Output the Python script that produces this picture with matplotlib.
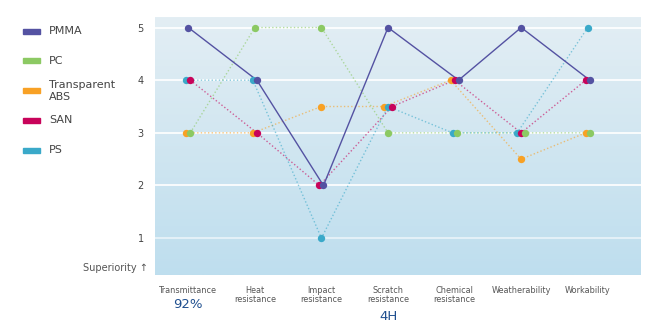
import numpy as np
import matplotlib
matplotlib.use("Agg")
import matplotlib.pyplot as plt
from matplotlib.patches import Rectangle
from matplotlib.colors import LinearSegmentedColormap

# Data
categories = ["Transmittance", "Heat\nresistance", "Impact\nresistance", "Scratch\nresistance",
              "Chemical\nresistance", "Weatherability", "Workability"]
extra_labels = {0: "92%", 3: "4H"}

series_names = ["PMMA", "PC", "Transparent\nABS", "SAN", "PS"]
pmma = [5, 4, 2, 5, 4, 5, 4]
pc = [3, 5, 5, 3, 3, 3, 3]
abs_ = [3, 3, 3.5, 3.5, 4, 2.5, 3]
san = [4, 3, 2, 3.5, 4, 3, 4]
ps = [4, 4, 1, 3.5, 3, 3, 5]
values = [pmma, pc, abs_, san, ps]
colors = ["#5452a2", "#8cc963", "#f8a125", "#c8035a", "#3aa9c9"]

# order used to spread overlapping markers left -> right
stack_order = [2, 4, 3, 0, 1]

fig = plt.figure(figsize=(6.53, 3.30), dpi=100)
ax = fig.add_axes([155 / 653, 55 / 330, 486 / 653, 258 / 330])
ax.set_xlim(-0.5, 6.8)
ax.set_ylim(0.3, 5.2)

# gradient background, light at the top
cmap = LinearSegmentedColormap.from_list("bg", ["#e3eef4", "#bedeee"])
grad = np.linspace(0, 1, 256).reshape(-1, 1)
ax.imshow(grad, cmap=cmap, aspect="auto", extent=[-0.5, 6.8, 0.3, 5.2],
          origin="upper", zorder=0)

for y in range(1, 6):
    ax.axhline(y, color="white", lw=1.3, alpha=0.95 if y > 1 else 0.6, zorder=1)

# spread points that share the same value at a category
step = 0.06
xs = [np.arange(len(categories), dtype=float) for _ in values]
for c in range(len(categories)):
    groups = {}
    for s in stack_order:
        groups.setdefault(values[s][c], []).append(s)
    for members in groups.values():
        n = len(members)
        for i, s in enumerate(members):
            xs[s][c] = c + (i - (n - 1) / 2) * step

for s in range(len(values)):
    if s == 0:
        ax.plot(xs[s], values[s], color=colors[s], lw=1.0, zorder=3)
    else:
        ax.plot(xs[s], values[s], color=colors[s], lw=1.0, alpha=0.6,
                ls=(0, (1, 1.6)), zorder=2)

for s in stack_order:
    ax.scatter(xs[s], values[s], s=28, color=colors[s], zorder=4, linewidths=0)

for sp in ax.spines.values():
    sp.set_visible(False)

ax.set_yticks(range(1, 6))
ax.set_yticklabels([str(v) for v in range(1, 6)], fontsize=7, color="#444444")
ax.tick_params(axis="y", length=0, pad=8)
ax.set_xticks(range(len(categories)))
ax.set_xticklabels(categories, fontsize=5.9, color="#555555", linespacing=1.05)
ax.tick_params(axis="x", length=0, pad=8)

tr = matplotlib.transforms.blended_transform_factory(ax.transData, ax.transAxes)
ax.text(0, -0.088, extra_labels[0], transform=tr, ha="center", va="top",
        fontsize=9.5, color="#1f4f8f")
ax.text(3, -0.135, extra_labels[3], transform=tr, ha="center", va="top",
        fontsize=9.5, color="#1f4f8f")

fig.text(148 / 653, 1 - 268 / 330, "Superiority \u2191", ha="right", va="center",
         fontsize=7, color="#555555")

# legend on the left
for i, name in enumerate(series_names):
    yc = 1 - (31 + 29.8 * i) / 330
    fig.patches.append(Rectangle((23 / 653, yc - 2.5 / 330), 17 / 653, 5 / 330,
                                 transform=fig.transFigure, color=colors[i]))
    fig.text(49 / 653, yc, name, ha="left", va="center", fontsize=8,
             color="#444444", linespacing=1.25)

fig.savefig("out.png", dpi=100)
